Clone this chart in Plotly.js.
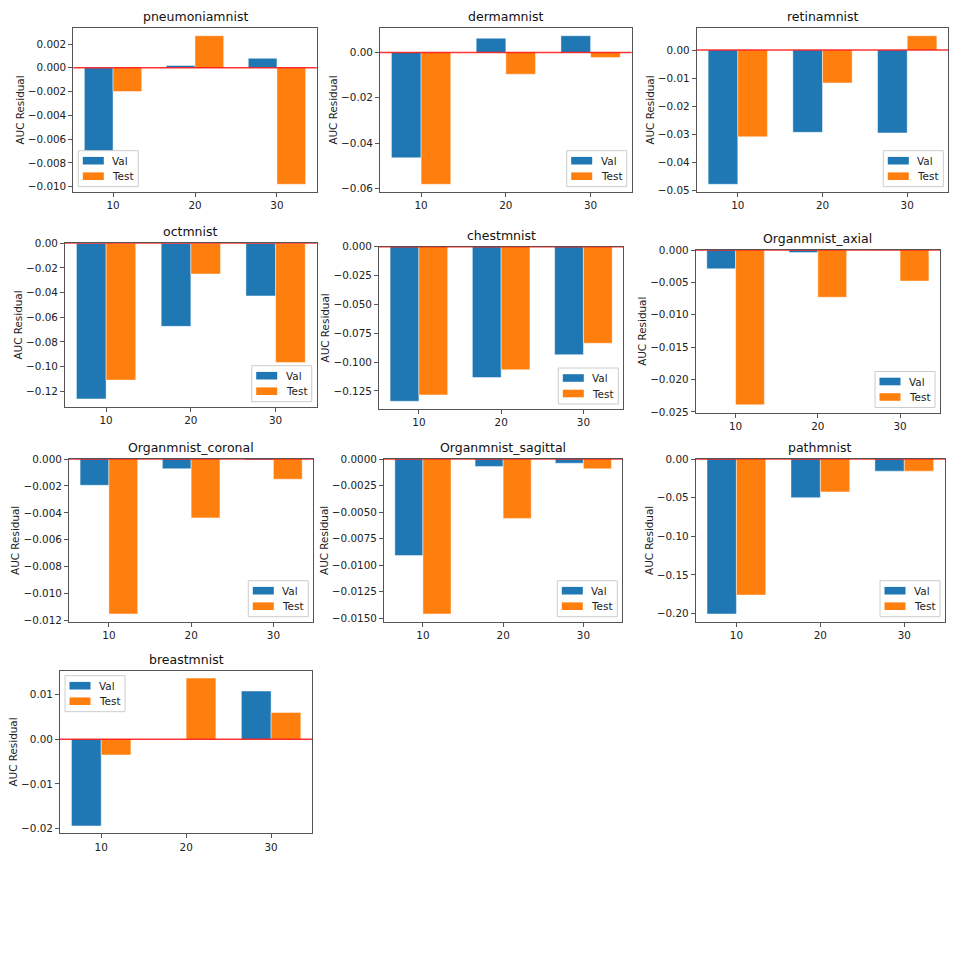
<!DOCTYPE html>
<html><head><meta charset="utf-8">
<script src="https://cdn.plot.ly/plotly-3.0.1.min.js"></script>
<style>html,body{margin:0;padding:0;background:#fff}</style>
</head><body><div id="chart" style="width:960px;height:960px"></div>
<script>
// ---- data ----
const categories = ['10', '20', '30'];
const seriesNames = ['Val', 'Test'];
const datasetNames = ['pneumoniamnist', 'dermamnist', 'retinamnist', 'octmnist', 'chestmnist',
  'Organmnist_axial', 'Organmnist_coronal', 'Organmnist_sagittal', 'pathmnist', 'breastmnist'];

const valPneumonia = [-0.0070, 0.0002, 0.0008];
const testPneumonia = [-0.0020, 0.0027, -0.0098];
const valDerma = [-0.0465, 0.0063, 0.0074];
const testDerma = [-0.0582, -0.0096, -0.0022];
const valRetina = [-0.0478, -0.0293, -0.0295];
const testRetina = [-0.0309, -0.0117, 0.0051];
const valOct = [-0.1263, -0.0674, -0.0427];
const testOct = [-0.1110, -0.0249, -0.0967];
const valChest = [-0.1340, -0.1134, -0.0936];
const testChest = [-0.1285, -0.1067, -0.0837];
const valAxial = [-0.0029, -0.0004, -0.00005];
const testAxial = [-0.0239, -0.0073, -0.0048];
const valCoronal = [-0.00195, -0.00072, -0.00008];
const testCoronal = [-0.0115, -0.00437, -0.0015];
const valSagittal = [-0.0091, -0.0007, -0.0004];
const testSagittal = [-0.0146, -0.0056, -0.00092];
const valPath = [-0.2005, -0.0500, -0.0157];
const testPath = [-0.1760, -0.0426, -0.0157];
const valBreast = [-0.0194, 0.0, 0.0108];
const testBreast = [-0.0035, 0.0137, 0.0060];

const valSeries = [valPneumonia, valDerma, valRetina, valOct, valChest, valAxial, valCoronal, valSagittal, valPath, valBreast];
const testSeries = [testPneumonia, testDerma, testRetina, testOct, testChest, testAxial, testCoronal, testSagittal, testPath, testBreast];

// ---- layout (pixel boxes of each axes: left, right, top, bottom) ----
const boxes = [
  [73.3, 316.7, 28.3, 191.7], [380, 631.7, 28.3, 191.7], [696.7, 948.3, 28.3, 191.7],
  [65, 316.7, 243.3, 406.7], [379, 623.3, 246.7, 409], [695.7, 940, 250, 412.5],
  [69, 313.3, 459, 621.7], [384, 622.3, 459, 621.7], [695.7, 945, 459, 621.7],
  [60, 312.3, 670.7, 833.3]
];
const dticks = [0.002, 0.02, 0.01, 0.02, 0.025, 0.005, 0.002, 0.0025, 0.05, 0.01];
const tformats = ['.3f', '.2f', '.2f', '.2f', '.3f', '.3f', '.3f', '.4f', '.2f', '.2f'];
const legendPos = ['ll', 'lr', 'lr', 'lr', 'lr', 'lr', 'lr', 'lr', 'lr', 'ul'];

const W = 960, H = 960;
const barW = 0.35;
const colors = ['#1f77b4', '#ff7f0e'];
const font = 'DejaVu Sans, sans-serif';
const fs = 10.4;

const xs = categories.map((c, i) => i);
const traces = [];
const layout = {
  width: W, height: H, margin: {l: 0, r: 0, t: 0, b: 0},
  paper_bgcolor: '#fff', plot_bgcolor: '#fff',
  barmode: 'overlay', bargap: 0, showlegend: false,
  font: {family: font, size: fs, color: '#222'},
  annotations: [], shapes: []
};

const xLo = -barW - 0.05 * (xs.length - 1 + 2 * barW);
const xHi = xs.length - 1 + barW + 0.05 * (xs.length - 1 + 2 * barW);
const px = v => v / W, py = v => 1 - v / H;

datasetNames.forEach((name, k) => {
  const n = k + 1;
  const sfx = n === 1 ? '' : String(n);
  const [l, r, t, b] = boxes[k];
  const vals = valSeries[k], tests = testSeries[k];
  [vals, tests].forEach((ys, j) => {
    traces.push({
      type: 'bar', name: seriesNames[j], x: xs, y: ys, offset: j === 0 ? -barW : 0, width: barW,
      marker: {color: colors[j], line: {color: 'rgba(255,255,255,0.45)', width: 1}},
      xaxis: 'x' + sfx, yaxis: 'y' + sfx, showlegend: false, hoverinfo: 'y'
    });
  });
  const all = vals.concat(tests);
  const lo = Math.min(0, ...all), hi = Math.max(0, ...all);
  const m = 0.05 * (hi - lo);
  const yr = [lo < 0 ? lo - m : lo, hi > 0 ? hi + m : hi];

  layout['xaxis' + sfx] = {
    domain: [px(l), px(r)], anchor: 'y' + sfx, range: [xLo, xHi],
    tickmode: 'array', tickvals: xs, ticktext: categories,
    showline: true, mirror: true, linecolor: '#555', linewidth: 1,
    ticks: 'outside', ticklen: 4, tickcolor: '#555', showgrid: false, zeroline: false,
    tickfont: {family: font, size: fs, color: '#222'}, fixedrange: true
  };
  layout['yaxis' + sfx] = {
    domain: [py(b), py(t)], anchor: 'x' + sfx, range: yr,
    tick0: 0, dtick: dticks[k], tickformat: tformats[k],
    showline: true, mirror: true, linecolor: '#555', linewidth: 1,
    ticks: 'outside', ticklen: 4, tickcolor: '#555', showgrid: false, zeroline: false,
    tickfont: {family: font, size: fs, color: '#222'},
    title: {text: 'AUC Residual', font: {family: font, size: fs, color: '#222'}, standoff: 1},
    automargin: false, fixedrange: true
  };
  layout.annotations.push({
    text: name, xref: 'paper', yref: 'paper', x: px((l + r) / 2), y: py(t),
    xanchor: 'center', yanchor: 'bottom', yshift: 2, showarrow: false,
    font: {family: font, size: 12.5, color: '#111'}
  });
  layout.shapes.push({
    type: 'line', xref: 'x' + sfx + ' domain', yref: 'y' + sfx, x0: 0, x1: 1, y0: 0, y1: 0,
    line: {color: 'rgba(255,0,0,0.8)', width: 1.5}, layer: 'above'
  });

  // legend box in matplotlib style
  const lw = 60, lh = 36, pad = 5;
  const pos = legendPos[k];
  let bx0, by0;
  if (pos === 'lr') { bx0 = r - pad - lw; by0 = b - pad - lh; }
  else if (pos === 'll') { bx0 = l + pad; by0 = b - pad - lh; }
  else { bx0 = l + pad; by0 = t + pad; }
  layout.shapes.push({
    type: 'rect', xref: 'paper', yref: 'paper', x0: px(bx0), x1: px(bx0 + lw), y0: py(by0 + lh), y1: py(by0),
    fillcolor: 'rgba(255,255,255,0.8)', line: {color: '#cccccc', width: 1}, layer: 'above'
  });
  seriesNames.forEach((sn, j) => {
    const cy = by0 + 10 + j * 15.5;
    layout.shapes.push({
      type: 'rect', xref: 'paper', yref: 'paper', x0: px(bx0 + 4.5), x1: px(bx0 + 25.5),
      y0: py(cy + 3.8), y1: py(cy - 3.8), fillcolor: colors[j], line: {width: 0}, layer: 'above'
    });
    layout.annotations.push({
      text: sn, xref: 'paper', yref: 'paper', x: px(bx0 + 33), y: py(cy),
      xanchor: 'left', yanchor: 'middle', showarrow: false, borderpad: 0,
      font: {family: font, size: fs, color: '#222'}
    });
  });
});

Plotly.newPlot('chart', traces, layout, {displayModeBar: false, staticPlot: true});
</script></body></html>
